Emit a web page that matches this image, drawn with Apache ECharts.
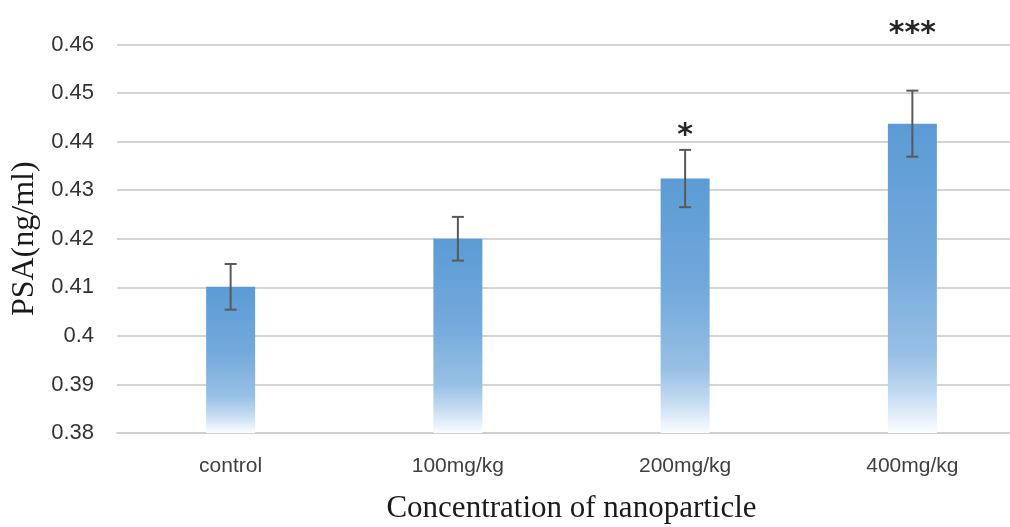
<!DOCTYPE html>
<html>
<head>
<meta charset="utf-8">
<script src="https://cdn.jsdelivr.net/npm/echarts@6/dist/echarts.min.js"></script>
<style>
html,body{margin:0;padding:0;background:#ffffff;}
#chart{width:1010px;height:527px;}
</style>
</head>
<body>
<div id="chart"></div>
<script>
// ---- data ----
const categories = ['control', '100mg/kg', '200mg/kg', '400mg/kg'];
const psaMeans   = [0.4101, 0.4200, 0.4324, 0.4437];
const psaErrors  = [0.0047, 0.0045, 0.0059, 0.0068];
const sigMarks   = ['', '', '*', '***'];
const sigLevels  = [null, null, 0.4412, 0.4622];
const yTicks     = { min: 0.38, max: 0.46, step: 0.01 };

const chart = echarts.init(document.getElementById('chart'), null, { renderer: 'canvas' });

const errorData = categories.map((c, i) => [i, psaMeans[i] - psaErrors[i], psaMeans[i] + psaErrors[i]]);
const sigData = categories.map((c, i) => [i, sigLevels[i], sigMarks[i]]).filter(d => d[1] !== null);

const option = {
  backgroundColor: '#ffffff',
  animation: false,
  grid: { left: 117, width: 909, top: 44.5, bottom: 94, containLabel: false, outerBoundsMode: 'none' },
  xAxis: {
    type: 'category',
    data: categories,
    axisTick: { show: false },
    axisLine: { lineStyle: { color: '#d0d0d0', width: 2 } },
    axisLabel: { color: '#404040', fontSize: 21, fontFamily: 'Liberation Sans', margin: 23 },
    name: 'Concentration of nanoparticle',
    nameLocation: 'middle',
    nameGap: 60,
    nameTextStyle: { color: '#1a1a1a', fontSize: 31, fontFamily: 'Liberation Serif' }
  },
  yAxis: {
    type: 'value',
    min: yTicks.min,
    max: yTicks.max,
    interval: yTicks.step,
    axisLine: { show: false },
    axisTick: { show: false },
    splitLine: { lineStyle: { color: '#d4d4d4', width: 2 } },
    axisLabel: {
      color: '#333333', fontSize: 22, fontFamily: 'Liberation Sans', margin: 23,
      formatter: v => String(+v.toFixed(2))
    },
    name: 'PSA(ng/ml)',
    nameLocation: 'middle',
    nameRotate: 90,
    nameGap: 73,
    nameTextStyle: { color: '#1a1a1a', fontSize: 32, fontFamily: 'Liberation Serif' }
  },
  series: [
    {
      type: 'bar',
      data: psaMeans,
      barWidth: 49,
      itemStyle: {
        color: new echarts.graphic.LinearGradient(0, 0, 0, 1, [
          { offset: 0, color: '#5b9bd5' },
          { offset: 0.45, color: '#74aadc' },
          { offset: 0.75, color: '#98c0e5' },
          { offset: 0.88, color: '#c6dcf2' },
          { offset: 1, color: '#fbfdff' }
        ])
      }
    },
    {
      type: 'custom',
      data: errorData,
      z: 10,
      renderItem: function (params, api) {
        const x = api.value(0);
        const pLo = api.coord([x, api.value(1)]);
        const pHi = api.coord([x, api.value(2)]);
        const half = 6;
        const st = { stroke: '#595959', lineWidth: 2 };
        return {
          type: 'group',
          children: [
            { type: 'line', shape: { x1: pHi[0], y1: pHi[1], x2: pLo[0], y2: pLo[1] }, style: st },
            { type: 'line', shape: { x1: pHi[0] - half, y1: pHi[1], x2: pHi[0] + half, y2: pHi[1] }, style: st },
            { type: 'line', shape: { x1: pLo[0] - half, y1: pLo[1], x2: pLo[0] + half, y2: pLo[1] }, style: st }
          ]
        };
      }
    },
    {
      type: 'custom',
      data: sigData,
      z: 11,
      clip: false,
      renderItem: function (params, api) {
        const p = api.coord([api.value(0), api.value(1)]);
        return {
          type: 'text',
          x: p[0], y: p[1],
          style: {
            text: sigMarks[api.value(0)],
            fill: '#262626',
            font: 'bold 30px "DejaVu Sans"',
            align: 'center',
            verticalAlign: 'middle'
          }
        };
      }
    }
  ]
};
chart.setOption(option);
</script>
</body>
</html>
